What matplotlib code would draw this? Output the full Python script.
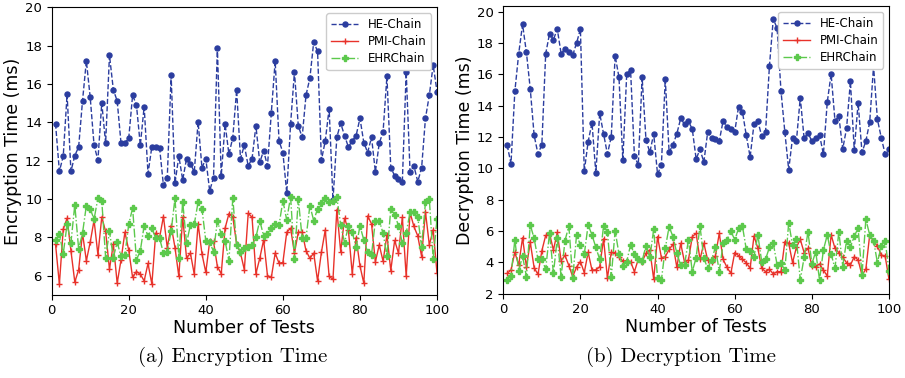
import matplotlib
matplotlib.use("Agg")
import matplotlib.pyplot as plt
import numpy as np

tests = list(range(1, 101))

enc_he = [13.93, 11.44, 12.23, 15.46, 11.44, 12.26, 12.71, 15.11, 17.20, 15.30,
          12.80, 12.02, 15.01, 12.90, 17.50, 15.70, 15.11, 12.90, 12.94, 13.17,
          15.41, 14.90, 12.80, 14.82, 11.32, 12.73, 12.71, 12.68, 10.71, 11.11,
          16.45, 10.82, 12.23, 10.99, 12.10, 11.83, 11.41, 14.02, 11.62, 12.10,
          10.42, 11.11, 17.90, 11.20, 13.91, 12.33, 13.20, 15.70, 12.10, 12.80,
          11.72, 12.10, 13.81, 11.90, 12.52, 11.72, 14.50, 17.20, 13.03, 12.42,
          10.31, 13.91, 16.63, 13.81, 13.22, 15.41, 16.30, 18.19, 17.70, 12.02,
          13.03, 14.71, 9.93, 13.22, 13.95, 13.30, 12.71, 13.03, 13.30, 14.21,
          12.94, 12.42, 13.22, 11.41, 12.90, 13.50, 16.40, 11.62, 11.22, 11.03,
          10.90, 16.63, 11.41, 11.72, 10.90, 11.62, 14.21, 15.41, 16.99, 15.60]

enc_pmi = [7.64, 5.55, 8.42, 8.99, 7.29, 5.66, 6.30, 8.21, 6.77, 7.74,
           8.89, 7.08, 9.05, 8.30, 6.33, 7.64, 5.60, 6.82, 8.26, 7.32,
           5.90, 6.21, 6.07, 5.72, 6.63, 5.55, 8.21, 7.98, 9.08, 7.46,
           8.61, 7.46, 5.95, 9.05, 6.91, 7.17, 6.07, 8.70, 7.13, 6.16,
           7.78, 7.78, 6.47, 6.09, 8.47, 9.23, 9.06, 7.64, 7.17, 6.30,
           9.25, 9.04, 6.09, 6.90, 7.86, 6.00, 5.90, 7.17, 6.64, 6.68,
           8.26, 8.47, 7.17, 8.26, 8.26, 7.30, 6.90, 7.17, 5.72, 7.22,
           8.38, 5.95, 5.81, 9.43, 7.25, 8.99, 8.38, 6.09, 7.98, 6.50,
           5.60, 9.11, 8.70, 6.71, 7.60, 6.75, 8.12, 6.26, 7.83, 7.17,
           9.04, 5.95, 9.29, 8.56, 8.07, 6.99, 9.32, 7.60, 8.38, 6.12]

enc_ehr = [7.86, 8.16, 7.13, 8.68, 7.72, 9.69, 7.39, 8.21, 9.65, 9.48,
           8.94, 10.04, 9.90, 6.94, 8.30, 6.94, 7.74, 7.00, 7.08, 8.68,
           9.52, 6.82, 7.29, 8.61, 8.04, 8.47, 7.95, 7.95, 7.17, 7.25,
           8.30, 10.04, 6.94, 9.86, 7.69, 8.64, 8.68, 9.83, 9.48, 7.81,
           7.74, 7.25, 8.85, 8.16, 7.81, 6.77, 10.04, 7.57, 7.25, 7.46,
           7.48, 7.60, 8.00, 8.87, 8.07, 8.17, 8.47, 8.68, 8.64, 9.90,
           8.90, 10.12, 6.85, 10.00, 7.95, 7.95, 9.65, 8.87, 9.48, 9.77,
           10.07, 9.86, 9.90, 10.09, 8.64, 7.72, 8.56, 8.26, 7.48, 8.59,
           7.86, 7.22, 7.08, 8.87, 8.87, 8.21, 7.03, 9.48, 9.17, 8.61,
           7.69, 8.21, 9.32, 9.32, 9.04, 7.51, 9.83, 10.00, 6.85, 8.96]

dec_he = [11.49, 10.30, 14.91, 17.32, 19.19, 17.40, 15.06, 12.11, 10.91, 11.51,
          17.32, 18.60, 18.21, 18.89, 17.32, 17.62, 17.45, 17.21, 18.00, 18.89,
          9.81, 11.70, 12.91, 9.70, 13.51, 12.21, 10.91, 12.02, 17.19, 15.81,
          10.51, 16.00, 16.30, 10.81, 10.21, 15.81, 11.81, 11.02, 12.21, 9.62,
          10.23, 15.70, 11.02, 11.51, 12.21, 13.19, 12.81, 13.00, 12.51, 10.60,
          11.21, 10.40, 12.32, 11.96, 11.89, 11.74, 13.04, 12.64, 12.53, 12.32,
          13.94, 13.62, 12.11, 10.72, 12.83, 13.04, 12.04, 12.32, 16.51, 19.53,
          18.94, 14.94, 12.32, 9.91, 11.96, 11.74, 14.51, 11.91, 12.26, 11.74,
          11.96, 12.11, 10.91, 14.23, 16.02, 13.02, 13.34, 11.23, 12.55, 15.55,
          11.15, 14.19, 11.02, 11.74, 12.94, 16.53, 13.13, 11.96, 10.91, 11.21]

dec_pmi = [3.30, 3.51, 4.64, 3.83, 5.57, 3.72, 5.28, 3.66, 3.23, 4.74,
           5.72, 5.83, 4.79, 5.91, 4.11, 4.45, 3.80, 3.09, 3.70, 4.05,
           3.35, 4.64, 3.51, 3.52, 3.72, 5.50, 3.00, 4.64, 4.62, 4.36,
           4.08, 4.11, 4.05, 3.41, 4.19, 4.05, 4.58, 4.79, 2.92, 5.64,
           4.30, 4.36, 4.83, 5.15, 3.68, 5.22, 4.00, 4.15, 5.64, 5.85,
           4.19, 5.22, 4.15, 4.05, 4.41, 5.85, 4.19, 3.68, 3.30, 4.62,
           4.43, 4.19, 3.98, 3.62, 5.68, 4.90, 3.62, 3.41, 3.56, 3.26,
           3.41, 3.41, 5.32, 5.22, 3.98, 4.96, 5.47, 4.62, 4.90, 3.77,
           3.73, 3.90, 3.51, 3.13, 5.75, 4.90, 4.62, 4.32, 3.98, 3.83,
           4.36, 4.15, 3.19, 3.56, 5.75, 5.32, 5.05, 4.47, 4.41, 2.92]

dec_ehr = [2.88, 3.15, 5.43, 3.47, 4.41, 3.09, 6.39, 5.53, 4.19, 4.19,
           3.56, 5.90, 3.30, 5.53, 3.09, 5.39, 6.32, 2.98, 5.75, 5.11,
           4.51, 6.39, 5.75, 4.96, 4.19, 6.32, 5.96, 3.09, 6.02, 4.53,
           3.77, 4.05, 5.11, 4.53, 4.19, 4.11, 5.05, 4.32, 6.11, 2.98,
           2.88, 4.90, 6.28, 5.64, 4.58, 3.83, 3.83, 5.43, 3.41, 4.30,
           6.32, 4.26, 3.62, 4.15, 4.96, 3.41, 5.22, 5.43, 6.02, 5.43,
           6.17, 6.32, 4.83, 4.70, 4.36, 5.75, 4.05, 4.19, 4.96, 5.22,
           3.83, 3.94, 3.51, 6.53, 5.11, 5.47, 2.88, 4.32, 5.96, 3.90,
           4.68, 2.88, 4.79, 5.75, 4.53, 3.62, 5.96, 3.73, 5.39, 5.00,
           5.68, 6.17, 3.19, 6.75, 5.75, 5.39, 3.98, 5.05, 5.39, 3.47]

series_names = ["HE-Chain", "PMI-Chain", "EHRChain"]
x_ticks = [0, 20, 40, 60, 80, 100]

BLUE = "#2b3d9f"
RED = "#e8322a"
GREEN = "#5cc94c"

fig = plt.figure(figsize=(9.05, 3.78), dpi=100)
ax1 = fig.add_axes([0.0571, 0.2204, 0.4258, 0.7603])
ax2 = fig.add_axes([0.5561, 0.2230, 0.4262, 0.7611])


def draw(ax, he, pmi, ehr):
    ax.plot(tests, he, linestyle="--", color=BLUE, marker="o", markersize=3.6,
            linewidth=1.0, label=series_names[0])
    ax.plot(tests, pmi, linestyle="-", color=RED, marker="+", markersize=4.5,
            linewidth=1.0, markeredgewidth=1.0, label=series_names[1])
    ax.plot(tests, ehr, linestyle="-.", color=GREEN, marker="P", markersize=5,
            linewidth=1.0, label=series_names[2])
    ax.set_xlim(0, 100)
    ax.set_xticks(x_ticks)
    ax.tick_params(labelsize=9.5, length=3.5)
    ax.set_xlabel("Number of Tests", fontsize=12.5, labelpad=1)
    ax.legend(loc="upper right", fontsize=8.5, handlelength=2.3,
              borderpad=0.4, labelspacing=0.35, framealpha=1.0)


draw(ax1, enc_he, enc_pmi, enc_ehr)
ax1.set_ylim(5, 20)
ax1.set_yticks([6, 8, 10, 12, 14, 16, 18, 20])
ax1.set_ylabel("Encryption Time (ms)", fontsize=12.5, labelpad=2)

draw(ax2, dec_he, dec_pmi, dec_ehr)
ax2.set_ylim(2, 20.36)
ax2.set_yticks([2, 4, 6, 8, 10, 12, 14, 16, 18, 20])
ax2.set_ylabel("Decryption Time (ms)", fontsize=12.5, labelpad=2)

fig.text(0.257, 0.055, "(a) Encryption Time", fontsize=15, family="cmr10",
         ha="center", va="center")
fig.text(0.752, 0.055, "(b) Decryption Time", fontsize=15, family="cmr10",
         ha="center", va="center")

fig.savefig("out.png", dpi=100)
